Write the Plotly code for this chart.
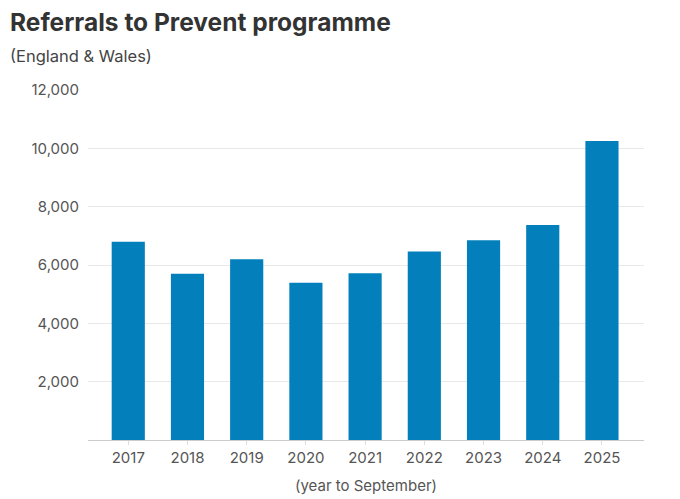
import plotly.graph_objects as go

years = ['2017', '2018', '2019', '2020', '2021', '2022', '2023', '2024', '2025']
referrals = [6800, 5700, 6200, 5390, 5720, 6460, 6850, 7370, 10250]
y_ticks = [2000, 4000, 6000, 8000, 10000, 12000]

bar_colour = '#0380bb'
font_family = 'Inter, Roboto, sans-serif'

# the page body adds an 8px margin, so margins are trimmed by 8 on the left/top
fig = go.Figure(go.Bar(x=years, y=referrals, marker=dict(color=bar_colour, line=dict(width=0)),
                       hoverinfo='x+y'))

fig.update_layout(
    width=680, height=499,
    margin=dict(l=80, r=44, t=82, b=67),
    paper_bgcolor='white', plot_bgcolor='white',
    font=dict(family=font_family, color='#555555', size=14),
    bargap=0.44,
    showlegend=False,
    title=dict(text='<b>Referrals to Prevent programme</b>',
               font=dict(family=font_family, size=24.5, color='#333333'),
               x=2 / 680, xref='container', xanchor='left',
               y=1 - 14 / 499, yref='container', yanchor='middle'),
    annotations=[dict(text='(England & Wales)', xref='paper', yref='paper',
                      x=-80 / 556, y=(82 - 48) / 350 + 1, xanchor='left', yanchor='middle',
                      showarrow=False, font=dict(family=font_family, size=16.5, color='#444444'))],
)

fig.update_xaxes(
    type='category', range=[-0.68, 8.71],
    showline=True, linecolor='#cccccc', linewidth=1,
    ticks='outside', ticklen=4, tickcolor='#dddddd',
    tickfont=dict(size=15, color='#555555'),
    title=dict(text='(year to September)', font=dict(size=15, color='#555555'), standoff=14),
)

fig.update_yaxes(
    range=[0, 12000], tickvals=y_ticks, tickformat=',',
    showgrid=True, gridcolor='#e8e8e8', gridwidth=1,
    zeroline=False, showline=False,
    ticks='', ticklabelstandoff=8,
    tickfont=dict(size=15, color='#555555'),
)

fig.write_html('out.html')
